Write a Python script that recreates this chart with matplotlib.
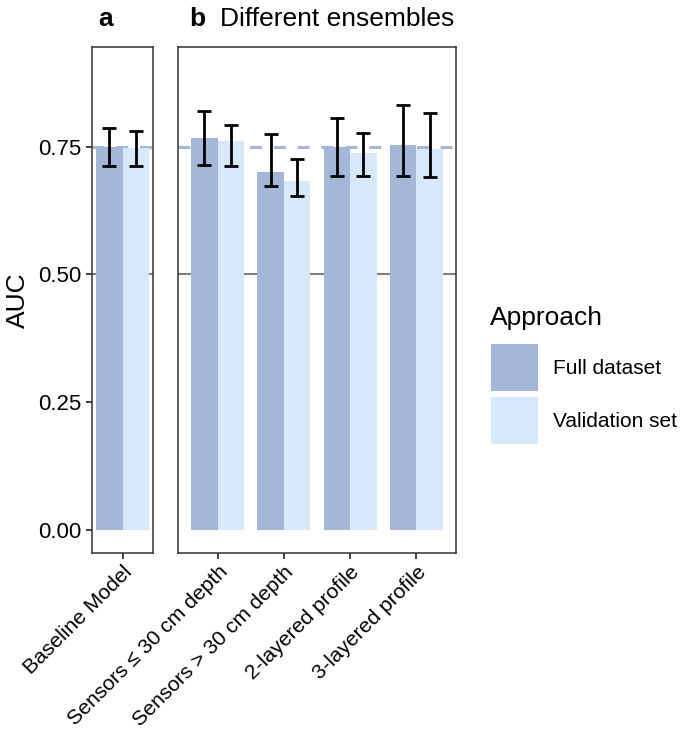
import matplotlib
matplotlib.use("Agg")
import matplotlib.pyplot as plt
from matplotlib.patches import Rectangle
import numpy as np

plt.rcParams['font.family'] = ['Liberation Sans', 'DejaVu Sans']

# ---- data ----
approaches = ["Full dataset", "Validation set"]
colors = ["#A5B7D9", "#D8E8FB"]

baseline_cat = ["Baseline Model"]
baseline_auc = {"Full dataset": [0.749], "Validation set": [0.747]}
baseline_lo = {"Full dataset": [0.713], "Validation set": [0.712]}
baseline_hi = {"Full dataset": [0.786], "Validation set": [0.781]}

ens_cat = ["Sensors \u2264 30 cm depth", "Sensors > 30 cm depth",
           "2-layered profile", "3-layered profile"]
ens_auc = {"Full dataset": [0.766, 0.701, 0.750, 0.753],
           "Validation set": [0.761, 0.682, 0.737, 0.746]}
ens_lo = {"Full dataset": [0.715, 0.673, 0.693, 0.692],
          "Validation set": [0.713, 0.654, 0.692, 0.691]}
ens_hi = {"Full dataset": [0.819, 0.775, 0.806, 0.831],
          "Validation set": [0.793, 0.726, 0.776, 0.815]}

yticks = [0.00, 0.25, 0.50, 0.75]
ref_chance = 0.5

W, H = 685, 738
fig = plt.figure(figsize=(W / 100, H / 100), dpi=100)

def px_axes(x0, y0, x1, y1):
    return fig.add_axes([x0 / W, 1 - y1 / H, (x1 - x0) / W, (y1 - y0) / H])

ax_a = px_axes(92, 47, 153, 553)
ax_b = px_axes(178, 47, 456, 553)

edge = "#333333"
bw = 0.4
ref_line = baseline_auc["Full dataset"][0]

def draw(ax, cats, auc, lo, hi, xlim):
    x = np.arange(1, len(cats) + 1)
    ax.axhline(ref_chance, color="#808080", lw=1.5, zorder=1)
    ax.axhline(ref_line, color=colors[0], lw=2.2, dashes=(3.9, 3.9), zorder=1)
    for i, ap in enumerate(approaches):
        xs = x + (i - 0.5) * bw
        ax.bar(xs, auc[ap], width=bw, color=colors[i], zorder=2, linewidth=0)
        v = np.array(auc[ap])
        err = np.vstack([v - np.array(lo[ap]), np.array(hi[ap]) - v])
        ax.errorbar(xs, v, yerr=err, fmt="none", ecolor="black", elinewidth=2.0,
                    capsize=4.8, capthick=2.0, zorder=3)
    ax.set_xlim(*xlim)
    ax.set_ylim(-0.045, 0.945)
    ax.set_xticks(x)
    ax.set_xticklabels(cats, rotation=45, ha="right", va="top",
                       rotation_mode="anchor", fontsize=15.2, color="black")
    for s in ax.spines.values():
        s.set_color(edge)
        s.set_linewidth(1.1)
    ax.tick_params(axis="both", length=4.5, width=1.3, color=edge, pad=3)
    ax.tick_params(axis="x", pad=2)

draw(ax_a, baseline_cat, baseline_auc, baseline_lo, baseline_hi, (1 - 0.462, 1 + 0.462))
draw(ax_b, ens_cat, ens_auc, ens_lo, ens_hi, (0.4, len(ens_cat) + 0.6))

ax_a.set_yticks(yticks)
ax_a.set_yticklabels([f"{t:.2f}" for t in yticks], fontsize=16, color="black")
ax_b.set_yticks([])
ax_a.set_ylabel("AUC", fontsize=19, labelpad=6)

# titles
fig.text(98 / W, 1 - 26 / H, "a", fontsize=19, fontweight="bold", va="baseline")
fig.text(189 / W, 1 - 26 / H, "b", fontsize=19, fontweight="bold", va="baseline")
fig.text(220 / W, 1 - 26 / H, "Different ensembles", fontsize=19, va="baseline")

# legend
fig.text(490 / W, 1 - 318 / H, "Approach", fontsize=19, va="center")
key_top = [344, 397]
for i, ap in enumerate(approaches):
    y0 = key_top[i]
    fig.patches.append(Rectangle((491 / W, 1 - (y0 + 47) / H), 47 / W, 47 / H,
                                 transform=fig.transFigure, color=colors[i], lw=0))
    fig.text(553 / W, 1 - (y0 + 24) / H, ap, fontsize=15, va="center")

fig.savefig("out.png", dpi=100)
